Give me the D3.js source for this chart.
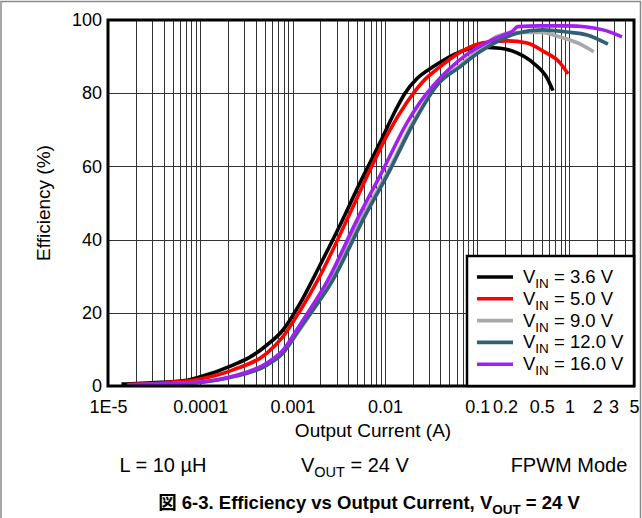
<!DOCTYPE html>
<html><head><meta charset="utf-8">
<script src="https://cdn.jsdelivr.net/npm/d3@7"></script>
<style>
body{margin:0;background:#fff;}
text{font-family:"Liberation Sans",Arial,sans-serif;}
</style></head>
<body><svg id="c" width="642" height="518"></svg>
<script>
const seriesNames = ["3.6 V","5.0 V","9.0 V","12.0 V","16.0 V"];
const seriesColors = ["#000000","#ff0000","#a9a9a9","#2f6076","#a020f0"];
const i36 = [1.4e-5,3e-5,6.8e-5,1e-4,2.26e-4,3.45e-4,5.28e-4,7.87e-4,1.2e-3,1.98e-3,3.27e-3,5.37e-3,8.85e-3,0.01285,0.01652,0.02229,0.0332,0.0651,0.0995,0.177,0.27,0.403,0.57,0.662];
const e36 = [0.5,0.9,1.5,2.5,5.7,7.9,11.2,15.3,22.5,33,44,55.5,66.5,75,80,84,87.2,91.3,92.6,92.3,91.0,88.3,84.2,80.7];
const i50 = [1.6e-5,4e-5,1e-4,2.26e-4,5.28e-4,7.87e-4,1.2e-3,1.88e-3,3.88e-3,6.9e-3,0.01054,0.01734,0.02588,0.0395,0.0684,0.1156,0.21,0.347,0.516,0.789,0.964];
const e50 = [0.4,0.9,1.9,4.4,9.0,13.5,20.5,29.0,45.4,59.0,68.5,77.5,83.2,87.2,91.5,93.8,94.3,93.7,91.5,88.3,85.3];
const i90 = [1.65e-5,4e-5,1e-4,2.26e-4,5.28e-4,7.87e-4,1.2e-3,2.6e-3,5.5e-3,0.011,0.0201,0.0376,0.0651,0.107,0.163,0.27,0.5,0.78,1.36,1.83];
const e90 = [0.3,0.55,1.05,2.6,5.9,9.3,15.4,29.0,45.4,59.0,72.0,82.5,87.6,92.0,95.5,96.6,96.6,95.4,93.2,91.3];
const i120 = [1.65e-5,4e-5,1e-4,2.26e-4,5.28e-4,7.87e-4,1.2e-3,2.74e-3,5.79e-3,0.01135,0.02014,0.03757,0.0651,0.107,0.1766,0.27,0.516,0.94,1.55,2.61];
const e120 = [0.3,0.5,1.0,2.5,5.7,9.0,15.8,29.0,45.4,59.0,71.5,82.5,87.2,91.3,94.5,96.4,97.3,96.7,95.9,93.4];
const i160 = [1.7e-5,4e-5,1e-4,2.26e-4,5.28e-4,7.87e-4,1.2e-3,2.42e-3,4.99e-3,9.53e-3,0.01734,0.024,0.0332,0.0507,0.0774,0.1276,0.2104,0.24,0.275,0.47,0.94,1.55,2.31,3.71];
const e160 = [0.3,0.6,1.1,2.7,6.3,9.8,16.7,29.0,45.4,59.0,71.9,77.5,82.0,86.8,90.6,93.9,96.3,96.9,98.2,98.4,98.4,98.1,97.3,95.4];
const xTickValues = [1e-5,1e-4,1e-3,1e-2,0.1,0.2,0.5,1,2,3,5];
const xTickLabels = ["1E-5","0.0001","0.001","0.01","0.1","0.2","0.5","1","2","3","5"];
const yTickValues = [0,20,40,60,80,100];

const seriesI = [i36,i50,i90,i120,i160];
const seriesE = [e36,e50,e90,e120,e160];

const L=108,R=634,T=20,B=386;
const svg=d3.select("#c");
const x=d3.scaleLog().domain([1e-5,5]).range([L,R]);
const y=d3.scaleLinear().domain([0,100]).range([B,T]);

// outer frame
svg.append("rect").attr("x",1).attr("y",1.5).attr("width",639.5).attr("height",540)
  .attr("fill","none").attr("stroke","#8a8a8a").attr("stroke-width",1.5);

// grid
const g=svg.append("g");
const gridVals=[];
for(let d=1e-5; d<5; d*=10){ for(let m=1;m<=9;m++){ const v=m*d; if(v>1e-5*1.0001 && v<5*0.999) gridVals.push(v);} }
g.selectAll("line.vg").data(gridVals).enter().append("line")
  .attr("x1",d=>Math.round(x(d))+0.5).attr("x2",d=>Math.round(x(d))+0.5)
  .attr("y1",T).attr("y2",B).attr("stroke","#333").attr("stroke-width",1);
g.selectAll("line.hg").data([20,40,60,80]).enter().append("line")
  .attr("x1",L).attr("x2",R).attr("y1",d=>Math.round(y(d))+0.5).attr("y2",d=>Math.round(y(d))+0.5)
  .attr("stroke","#333").attr("stroke-width",1);

// curves
const line=d3.line().x(d=>x(d[0])).y(d=>y(d[1])).curve(d3.curveMonotoneX);
seriesI.forEach((arr,k)=>{
  const pts=arr.map((v,j)=>[v,seriesE[k][j]]);
  svg.append("path").datum(pts).attr("d",line).attr("fill","none")
    .attr("stroke",seriesColors[k]).attr("stroke-width",3.6).attr("stroke-linecap","butt");
});

// border
svg.append("rect").attr("x",L).attr("y",T).attr("width",R-L).attr("height",B-T)
  .attr("fill","none").attr("stroke","#000").attr("stroke-width",3);

// axes
const xa=svg.append("g").attr("transform",`translate(0,${B})`)
  .call(d3.axisBottom(x).tickValues(xTickValues).tickFormat((d,i)=>xTickLabels[i]).tickSize(0).tickPadding(14));
xa.select(".domain").remove();
xa.selectAll("text").attr("font-size",18).attr("fill","#000").attr("font-family","Liberation Sans, Arial, sans-serif");
const ya=svg.append("g").attr("transform",`translate(${L},0)`)
  .call(d3.axisLeft(y).tickValues(yTickValues).tickSize(0).tickPadding(6));
ya.select(".domain").remove();
ya.selectAll("text").attr("font-size",18).attr("fill","#000").attr("font-family","Liberation Sans, Arial, sans-serif");

svg.append("text").attr("x",373).attr("y",437).attr("text-anchor","middle").attr("font-size",19).text("Output Current (A)");
svg.append("text").attr("transform","translate(50,203) rotate(-90)").attr("text-anchor","middle").attr("font-size",19).text("Efficiency (%)");

// legend
const lg=svg.append("g");
lg.append("rect").attr("x",467).attr("y",256).attr("width",R-467).attr("height",B-256)
  .attr("fill","#fff").attr("stroke","#000").attr("stroke-width",2.5);
seriesNames.forEach((n,k)=>{
  const yy=277+k*21.8;
  lg.append("line").attr("x1",477).attr("x2",513).attr("y1",yy).attr("y2",yy)
    .attr("stroke",seriesColors[k]).attr("stroke-width",3.6);
  const t=lg.append("text").attr("x",523).attr("y",yy+6).attr("font-size",18.5);
  t.append("tspan").text("V");
  t.append("tspan").attr("font-size",13.5).attr("dy",5).text("IN");
  t.append("tspan").attr("dy",-5).text(" = "+n);
});

// notes
svg.append("text").attr("x",163).attr("y",472).attr("text-anchor","middle").attr("font-size",20).text("L = 10 µH");
const vo=svg.append("text").attr("x",301).attr("y",472).attr("font-size",20);
vo.append("tspan").text("V");
vo.append("tspan").attr("font-size",14.5).attr("dy",5).text("OUT");
vo.append("tspan").attr("dy",-5).text(" = 24 V");
svg.append("text").attr("x",569).attr("y",472).attr("text-anchor","middle").attr("font-size",20).text("FPWM Mode");
const ti=svg.append("text").attr("x",369).attr("y",509).attr("text-anchor","middle").attr("font-size",18.5).attr("font-weight","bold");
ti.append("tspan").attr("font-family","Noto Sans CJK JP").text("図");
ti.append("tspan").text(" 6-3. Efficiency vs Output Current, V");
ti.append("tspan").attr("font-size",13.5).attr("dy",5).text("OUT");
ti.append("tspan").attr("dy",-5).text(" = 24 V");
</script></body></html>
